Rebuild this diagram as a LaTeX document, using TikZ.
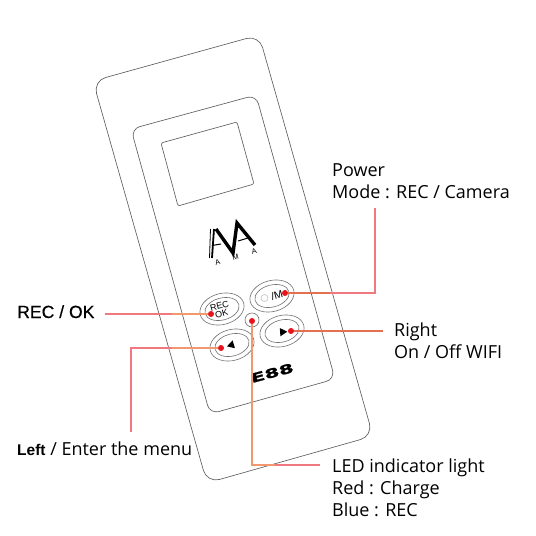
\documentclass[tikz,border=0pt]{standalone}
\usepackage{fontspec}
\setmainfont{Open Sans}
\newfontfamily\arialfont{Liberation Sans}
\newfontfamily\arialheavy[FakeBold=0.5]{Liberation Sans}
\newfontfamily\logofont[FakeStretch=1.7,FakeBold=1.5]{DejaVu Sans Bold}
\usetikzlibrary{shapes.geometric}
\definecolor{outline}{HTML}{5E5E5E}
\definecolor{btnline}{HTML}{707070}
\definecolor{leaderpink}{HTML}{F0787F}
\definecolor{leaderpeach}{HTML}{F2986F}
\definecolor{leaderdeep}{HTML}{E4704F}
\definecolor{dotred}{HTML}{E8141C}
\tikzset{
  shell/.style={draw=outline, line width=0.65pt},
  btnouter/.style={ellipse, draw=btnline, line width=0.6pt, minimum width=45pt, minimum height=31pt, inner sep=0pt, rotate=15},
  btninner/.style={ellipse, draw=btnline, line width=0.6pt, minimum width=35pt, minimum height=22pt, inner sep=0pt, rotate=15},
  reddot/.style={circle, fill=dotred, minimum size=6pt, inner sep=0pt},
  leader/.style={leaderpink, line width=1.3pt},
  leaderin/.style={leaderpeach, line width=1.3pt},
  leadermid/.style={leaderdeep, line width=1.3pt},
  caption/.style={anchor=base west, inner sep=0pt, align=left, font=\fontsize{18}{22}\selectfont},
  arrowmark/.style={regular polygon, regular polygon sides=3, fill=black, minimum size=9.5pt, inner sep=0pt},
  logoletter/.style={font=\arialfont\fontsize{7.5}{8}\selectfont, rotate=15, inner sep=0pt},
  logostroke/.style={line join=miter, line cap=butt},
}
\begin{document}
\begin{tikzpicture}[x=1pt, y=-1pt]
  \useasboundingbox (0,0) rectangle (536,536);
  % device outlines
  \draw[shell, rounded corners=13pt] (93,81) -- (259,35) -- (373,436) -- (207,483) -- cycle;
  \draw[shell, rounded corners=9pt] (131,129) -- (256,95) -- (335,379) -- (210,414) -- cycle;
  \draw[shell, rounded corners=2pt] (161,143) -- (237,122) -- (254,184) -- (178,206) -- cycle;
  % logo
  \draw[logostroke, line width=3.4pt] (216,229) -- (233,253) -- (237,223) -- (255,245);
  \draw[logostroke, line width=1.8pt] (214,229) -- (212,258);
  \draw[logostroke, line width=0.8pt] (210.5,229) -- (209.5,258);
  \draw[logostroke, line width=1pt] (212,245.5) -- (221,244);
  \draw[logostroke, line width=1pt] (238,241) -- (248,238);
  \node[logoletter] (logoa) at (217.5,262) {A};
  \node[logoletter] (logom) at (235.5,257.5) {M};
  \node[logoletter] (logob) at (254,251) {A};
  % buttons
  \node[btnouter] (recouter) at (222,309) {};
  \node[btninner] (recinner) at (222,309) {};
  \node[btnouter] (modeouter) at (272,296) {};
  \node[btninner] (modeinner) at (272,296) {};
  \node[btnouter] (rightouter) at (282,331) {};
  \node[btninner] (rightinner) at (282,331) {};
  \node[btnouter] (leftouter) at (232,345) {};
  \node[btninner] (leftinner) at (232,345) {};
  \node[circle, draw=btnline, line width=0.6pt, minimum size=14pt, inner sep=0pt] (ledring) at (252,320) {};
  \node[font=\arialfont\fontsize{9}{8.5}\selectfont, rotate=15, align=center, inner sep=0pt] (reclabel) at (220.5,310) {REC\\OK};
  \node[font=\arialfont\fontsize{10.5}{10}\selectfont, rotate=15, inner sep=0pt] (modelabel) at (277,295.5) {/M};
  \node[circle, draw=black!25, line width=0.6pt, minimum size=7pt, inner sep=0pt] (powermark) at (264.5,298) {};
  \node[arrowmark, rotate=-13] (leftmark) at (231.5,345) {};
  \node[arrowmark, rotate=-86] (rightmark) at (282.5,332) {};
  \node[font=\logofont\fontsize{12.5}{13}\selectfont, rotate=15, inner sep=0pt] (modelname) at (272,373) {E88};
  % dots
  \node[reddot] (modedot) at (285,293) {};
  \node[reddot] (recdot) at (211,314) {};
  \node[reddot] (leftdot) at (221,348) {};
  \node[reddot] (rightdot) at (291,331) {};
  \node[reddot] (leddot) at (252,321) {};
  % leader ends
  \coordinate (modeend) at (375,208);
  \coordinate (recend) at (104.5,314);
  \coordinate (recfade) at (172,314);
  \coordinate (leftend) at (131,432);
  \coordinate (leftfade) at (172,348);
  \coordinate (rightend) at (383,331);
  \coordinate (ledend) at (320,465);
  \coordinate (ledfade) at (275,465);
  % leaders
  \draw[leader] (modedot) -| (modeend);
  \draw[leadermid] (modedot) -- (330,293);
  \draw[leader] (recdot) -- (recend);
  \draw[leaderin] (recdot) -- (recfade);
  \draw[leader] (leftdot) -| (leftend);
  \draw[leaderin] (leftdot) -- (leftfade);
  \draw[leadermid] (rightdot) -- (rightend);
  \draw[leader] (leddot) |- (ledend);
  \draw[leaderin] (leddot) |- (ledfade);
  % captions
  \node[caption] (powertext) at (332,176) {Power};
  \node[caption] (modetext) at (332,198) {Mode : REC / Camera};
  \node[caption] (righttext) at (394,336) {Right};
  \node[caption] (wifitext) at (394,358) {On / Off WIFI};
  \node[caption] (ledtext) at (332,472) {LED indicator light};
  \node[caption] (redtext) at (332,494) {Red : Charge};
  \node[caption] (bluetext) at (332,516) {Blue : REC};
  \node[caption, font=\arialheavy\fontsize{17.6}{22}\selectfont] (rectext) at (17,318) {REC / OK};
  \node[caption] (lefttext) at (17,455) {{\arialfont\bfseries\fontsize{15.5}{22}\selectfont Left} / Enter the menu};
\end{tikzpicture}
\end{document}
